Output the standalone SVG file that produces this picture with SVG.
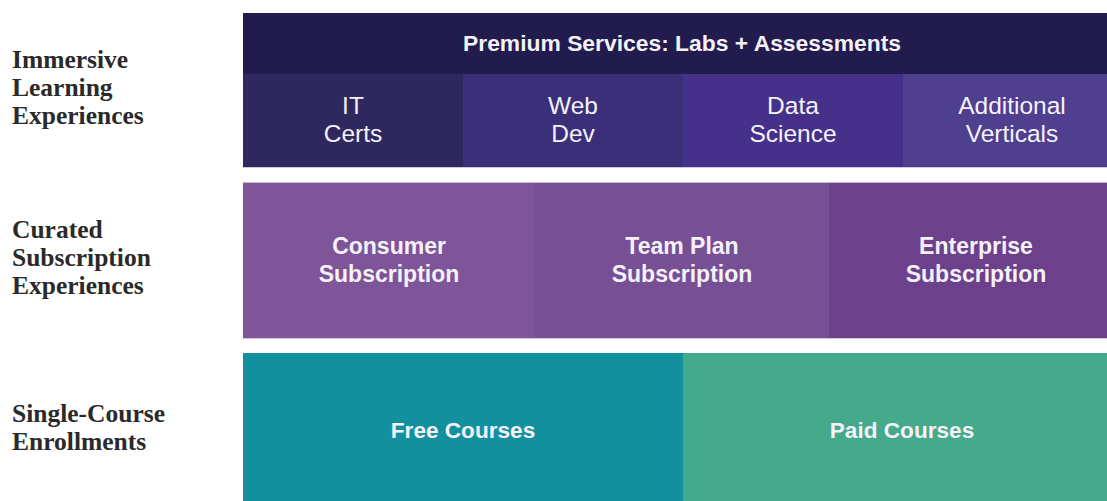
<svg xmlns="http://www.w3.org/2000/svg" width="1107" height="501" viewBox="0 0 1107 501">
<style>
.lbl{font-family:"Liberation Serif","Times New Roman",serif;font-weight:bold;font-size:25.5px;fill:#2a2a2a}
.t{font-family:"Liberation Sans",Arial,sans-serif;fill:#f4f2f8;text-anchor:middle}
.b{font-weight:bold;font-size:23px}
.r{font-size:24.5px}
.c{font-weight:bold;font-size:22.6px}
</style>
<rect width="1107" height="501" fill="#ffffff"/>
<g id="labels">
<text class="lbl" x="12" y="68">Immersive</text>
<text class="lbl" x="12" y="96">Learning</text>
<text class="lbl" x="12" y="124">Experiences</text>
<text class="lbl" x="12" y="238">Curated</text>
<text class="lbl" x="12" y="266">Subscription</text>
<text class="lbl" x="12" y="294">Experiences</text>
<text class="lbl" x="12" y="422">Single-Course</text>
<text class="lbl" x="12" y="450">Enrollments</text>
</g>
<g id="premium">
<rect x="243" y="13" width="864" height="61" fill="#221b4d"/>
<text class="t" x="682" y="51" font-weight="bold" font-size="22.5" textLength="438" lengthAdjust="spacingAndGlyphs">Premium Services: Labs + Assessments</text>
</g>
<g id="it-certs">
<rect x="243" y="74" width="220" height="93" fill="#2f285f"/>
<text class="t r" x="353" y="114">IT</text>
<text class="t r" x="353" y="142">Certs</text>
</g>
<g id="web-dev">
<rect x="463" y="74" width="220" height="93" fill="#3b2f7a"/>
<text class="t r" x="573" y="114">Web</text>
<text class="t r" x="573" y="142">Dev</text>
</g>
<g id="data-science">
<rect x="683" y="74" width="220" height="93" fill="#45318a"/>
<text class="t r" x="793" y="114">Data</text>
<text class="t r" x="793" y="142">Science</text>
</g>
<g id="additional-verticals">
<rect x="903" y="74" width="204" height="93" fill="#4f3f8f"/>
<text class="t r" x="1012" y="114">Additional</text>
<text class="t r" x="1012" y="142">Verticals</text>
</g>
<line x1="243" y1="167.5" x2="1107" y2="167.5" stroke="#cfc8e2" stroke-width="1"/>
<g id="consumer">
<rect x="243" y="183" width="292" height="155" fill="#7f5599"/>
<text class="t b" x="389" y="254">Consumer</text>
<text class="t b" x="389" y="282">Subscription</text>
</g>
<g id="team-plan">
<rect x="535" y="183" width="294" height="155" fill="#774f95"/>
<text class="t b" x="682" y="254">Team Plan</text>
<text class="t b" x="682" y="282">Subscription</text>
</g>
<g id="enterprise">
<rect x="829" y="183" width="278" height="155" fill="#6d408c"/>
<text class="t b" x="976" y="254">Enterprise</text>
<text class="t b" x="976" y="282">Subscription</text>
</g>
<line x1="243" y1="182.5" x2="1107" y2="182.5" stroke="#cdb8d8" stroke-width="1"/>
<line x1="243" y1="338.5" x2="1107" y2="338.5" stroke="#d8c8e0" stroke-width="1"/>
<g id="free-courses">
<rect x="243" y="353" width="440" height="148" fill="#13909e"/>
<text class="t c" x="463" y="438">Free Courses</text>
</g>
<g id="paid-courses">
<rect x="683" y="353" width="424" height="148" fill="#45a98b"/>
<text class="t c" x="902" y="438">Paid Courses</text>
</g>
<g id="connectors"></g>
</svg>
